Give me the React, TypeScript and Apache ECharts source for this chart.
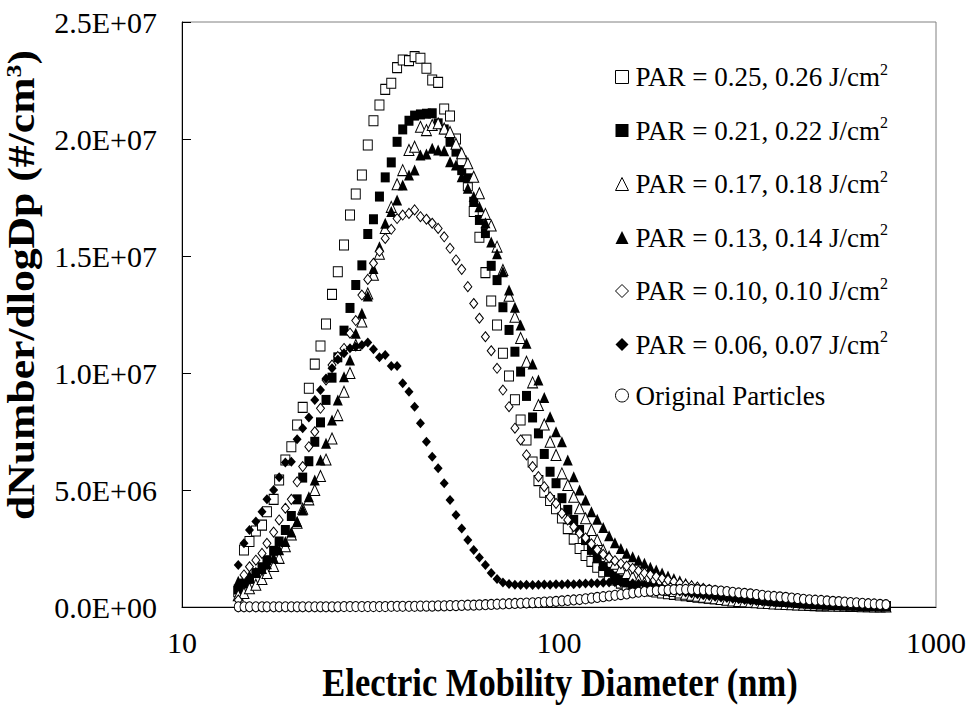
import React, { useEffect, useRef } from 'react';
import * as echarts from 'echarts';

// Electric mobility diameters (nm), SMPS channels
const diameters = [
  14.1, 14.6, 15.1, 15.7, 16.3, 16.8, 17.5, 18.1, 18.8, 19.5,
  20.2, 20.9, 21.7, 22.5, 23.3, 24.1, 25.0, 25.9, 26.9, 27.9,
  28.9, 30.0, 31.1, 32.2, 33.4, 34.6, 35.9, 37.2, 38.5, 40.0,
  41.4, 42.9, 44.5, 46.1, 47.8, 49.6, 51.4, 53.3, 55.2, 57.3,
  59.4, 61.5, 63.8, 66.1, 68.5, 71.0, 73.7, 76.4, 79.1, 82.0,
  85.1, 88.2, 91.4, 94.7, 98.2, 101.8, 105.5, 109.4, 113.4, 117.6,
  121.9, 126.3, 131.0, 135.8, 140.7, 145.9, 151.2, 156.8, 162.5, 168.5,
  174.7, 181.1, 187.7, 194.6, 201.7, 209.1, 216.7, 224.7, 232.9, 241.4,
  250.3, 259.5, 269.0, 278.8, 289.0, 299.6, 310.6, 322.0, 333.8, 346.0,
  358.7, 371.8, 385.4, 399.5, 414.2, 429.4, 445.1, 461.4, 478.3, 495.8,
  514.0, 532.8, 552.3, 572.5, 593.5, 615.3, 637.8, 661.2, 685.4, 710.5,
  736.5,
];

// dN/dlogDp values in millions (#/cm3 x 1e6)
const par025 = [
  0.65, 2.44, 2.8, 3.25, 3.5, 4.07, 4.6, 5.43, 6.28, 6.85,
  7.78, 8.53, 9.35, 10.38, 11.15, 12.09, 13.36, 14.33, 15.47, 16.75,
  17.65, 18.46, 19.74, 20.78, 21.45, 22.12, 22.38, 23.05, 23.38, 23.35,
  23.52, 23.45, 23.02, 22.52, 22.42, 21.28, 20.98, 20.0, 19.06, 18.0,
  16.9, 15.8, 14.29, 13.08, 12.05, 10.84, 9.87, 8.86, 7.99, 7.14,
  6.2, 5.4, 4.9, 4.55, 4.2, 3.8, 3.35, 2.9, 2.5, 2.2,
  1.95, 1.7, 1.5, 1.3, 1.15, 1.02, 0.92, 0.85, 0.78, 0.72,
  0.68, 0.64, 0.6, 0.57, 0.54, 0.51, 0.48, 0.45, 0.42, 0.4,
  0.37, 0.35, 0.33, 0.31, 0.29, 0.27, 0.25, 0.23, 0.21, 0.2,
  0.18, 0.17, 0.16, 0.14, 0.13, 0.12, 0.11, 0.1, 0.09, 0.08,
  0.07, 0.06, 0.06, 0.05, 0.05, 0.04, 0.04, 0.03, 0.03, 0.02,
  0.02,
];

const par021 = [
  0.75, 1.0, 1.2, 1.45, 1.7, 2.0, 2.4, 2.8, 3.29, 3.89,
  4.6, 5.53, 6.23, 7.06, 7.89, 8.85, 9.8, 10.67, 11.81, 12.78,
  13.76, 14.6, 15.94, 16.57, 17.54, 18.36, 19.0, 19.88, 20.41, 20.78,
  21.0, 21.05, 21.08, 21.1, 20.67, 20.41, 19.88, 19.46, 18.67, 18.32,
  17.32, 16.54, 15.98, 14.58, 13.97, 12.81, 11.84, 10.91, 10.06, 9.02,
  8.1, 7.42, 6.54, 5.78, 5.29, 4.65, 4.15, 3.72, 3.29, 2.86,
  2.44, 2.08, 1.75, 1.5, 1.3, 1.15, 1.05, 0.97, 0.9, 0.85,
  0.8, 0.76, 0.72, 0.68, 0.64, 0.6, 0.57, 0.54, 0.51, 0.48,
  0.45, 0.42, 0.4, 0.37, 0.35, 0.33, 0.31, 0.29, 0.27, 0.25,
  0.23, 0.21, 0.2, 0.18, 0.17, 0.15, 0.14, 0.13, 0.12, 0.11,
  0.1, 0.09, 0.08, 0.07, 0.06, 0.05, 0.05, 0.04, 0.03, 0.03,
  0.02,
];

const par017 = [
  0.5, 0.6, 0.8, 0.95, 1.2, 1.45, 1.75, 2.1, 2.6, 3.1,
  3.6, 4.2, 4.6, 5.0, 5.6, 6.3, 7.2, 8.2, 9.2, 10.0,
  11.2, 12.2, 13.4, 14.2, 15.1, 16.2, 17.1, 18.07, 18.67, 19.53,
  19.67, 20.52, 20.38, 20.6, 20.67, 20.45, 20.3, 19.8, 19.39, 18.96,
  18.39, 17.68, 16.8, 16.3, 15.4, 14.4, 13.3, 12.4, 11.5, 10.48,
  9.6, 8.63, 7.8, 7.06, 6.5, 5.71, 5.21, 4.71, 4.22, 3.79,
  3.29, 2.86, 2.44, 2.15, 1.85, 1.65, 1.45, 1.3, 1.15, 1.05,
  0.94, 0.87, 0.8, 0.74, 0.68, 0.62, 0.57, 0.52, 0.48, 0.44,
  0.4, 0.37, 0.34, 0.31, 0.28, 0.26, 0.24, 0.22, 0.2, 0.18,
  0.17, 0.15, 0.14, 0.13, 0.12, 0.11, 0.1, 0.09, 0.08, 0.07,
  0.07, 0.06, 0.05, 0.05, 0.04, 0.04, 0.03, 0.03, 0.02, 0.02,
  0.02,
];

const par013 = [
  1.1, 1.2, 1.35, 1.5, 1.65, 1.85, 2.1, 2.45, 2.8, 3.2,
  3.65, 4.15, 4.71, 5.43, 6.28, 7.0, 7.99, 8.85, 9.84, 10.56,
  11.7, 12.55, 13.29, 14.47, 15.4, 16.4, 16.9, 17.39, 18.03, 18.46,
  18.67, 19.32, 19.36, 19.6, 19.53, 19.5, 19.03, 18.89, 18.39, 17.89,
  17.54, 17.1, 16.42, 15.6, 15.1, 14.33, 13.55, 12.81, 12.05, 11.27,
  10.38, 9.7, 8.95, 8.13, 7.49, 7.06, 6.28, 5.57, 5.0, 4.57,
  4.07, 3.75, 3.4, 3.05, 2.75, 2.5, 2.3, 2.15, 2.0, 1.87,
  1.7, 1.58, 1.45, 1.33, 1.22, 1.12, 1.02, 0.93, 0.85, 0.78,
  0.71, 0.65, 0.6, 0.55, 0.5, 0.46, 0.42, 0.38, 0.35, 0.32,
  0.29, 0.27, 0.25, 0.23, 0.21, 0.19, 0.17, 0.16, 0.14, 0.13,
  0.12, 0.11, 0.1, 0.09, 0.08, 0.07, 0.06, 0.05, 0.05, 0.04,
  0.04,
];

const par010 = [
  0.3, 1.37, 1.72, 2.0, 2.29, 2.72, 3.2, 3.72, 4.22, 4.6,
  5.35, 6.0, 6.85, 7.49, 8.49, 9.7, 10.34, 10.7, 11.05, 11.7,
  12.24, 13.33, 14.0, 14.69, 15.2, 15.75, 16.14, 16.6, 16.75, 16.82,
  16.97, 16.68, 16.57, 16.4, 16.18, 15.82, 15.33, 14.83, 14.43, 13.69,
  12.97, 12.34, 11.55, 10.95, 10.2, 9.27, 8.56, 7.64, 7.14, 6.5,
  6.0, 5.57, 5.14, 4.71, 4.43, 4.0, 3.72, 3.43, 3.15, 2.95,
  2.7, 2.45, 2.25, 2.1, 1.98, 1.85, 1.75, 1.65, 1.55, 1.45,
  1.37, 1.3, 1.22, 1.15, 1.08, 1.01, 0.95, 0.9, 0.85, 0.8,
  0.75, 0.71, 0.67, 0.63, 0.59, 0.55, 0.52, 0.49, 0.46, 0.43,
  0.4, 0.37, 0.35, 0.32, 0.3, 0.28, 0.26, 0.24, 0.22, 0.2,
  0.18, 0.16, 0.15, 0.13, 0.12, 0.1, 0.09, 0.08, 0.07, 0.06,
  0.05,
];

const par006 = [
  1.79, 2.72, 3.29, 3.65, 4.07, 4.6, 5.0, 5.54, 6.17, 6.21,
  7.17, 7.64, 8.1, 8.85, 9.27, 9.77, 10.2, 10.58, 10.84, 11.06,
  11.12, 11.2, 11.3, 11.01, 10.67, 10.77, 10.3, 10.3, 9.56, 9.2,
  8.56, 7.85, 7.06, 6.42, 5.93, 5.29, 4.57, 3.93, 3.36, 2.86,
  2.44, 2.12, 1.8, 1.45, 1.2, 1.05, 0.98, 0.95, 0.94, 0.95,
  0.94, 0.95, 0.96, 0.95, 0.97, 0.96, 0.98, 0.97, 0.99, 1.0,
  1.01, 1.02, 1.04, 1.05, 1.06, 1.05, 1.04, 1.02, 0.99, 0.95,
  0.9, 0.85, 0.8, 0.75, 0.7, 0.66, 0.62, 0.58, 0.54, 0.5,
  0.47, 0.44, 0.41, 0.38, 0.35, 0.33, 0.3, 0.28, 0.26, 0.24,
  0.22, 0.2, 0.19, 0.17, 0.16, 0.15, 0.13, 0.12, 0.11, 0.1,
  0.09, 0.08, 0.08, 0.07, 0.06, 0.05, 0.05, 0.04, 0.04, 0.03,
  0.03,
];

const original = [
  0.01, 0.01, 0.01, 0.01, 0.01, 0.01, 0.01, 0.01, 0.01, 0.01,
  0.01, 0.01, 0.01, 0.01, 0.01, 0.01, 0.01, 0.01, 0.02, 0.02,
  0.02, 0.02, 0.02, 0.02, 0.02, 0.02, 0.03, 0.03, 0.03, 0.03,
  0.03, 0.04, 0.04, 0.04, 0.05, 0.05, 0.06, 0.06, 0.07, 0.08,
  0.08, 0.09, 0.1, 0.11, 0.12, 0.13, 0.14, 0.15, 0.16, 0.17,
  0.18, 0.19, 0.21, 0.22, 0.24, 0.26, 0.28, 0.3, 0.32, 0.35,
  0.38, 0.41, 0.44, 0.47, 0.5, 0.53, 0.56, 0.6, 0.63, 0.66,
  0.68, 0.7, 0.72, 0.73, 0.74, 0.75, 0.75, 0.75, 0.74, 0.73,
  0.72, 0.7, 0.68, 0.66, 0.63, 0.6, 0.58, 0.56, 0.53, 0.5,
  0.47, 0.45, 0.43, 0.41, 0.38, 0.36, 0.33, 0.31, 0.29, 0.28,
  0.26, 0.24, 0.23, 0.21, 0.19, 0.18, 0.16, 0.14, 0.13, 0.11,
  0.1,
];

const seriesNames = [
  'PAR = 0.25, 0.26 J/cm2',
  'PAR = 0.21, 0.22 J/cm2',
  'PAR = 0.17, 0.18 J/cm2',
  'PAR = 0.13, 0.14 J/cm2',
  'PAR = 0.10, 0.10 J/cm2',
  'PAR = 0.06, 0.07 J/cm2',
  'Original Particles',
];

const xTitle = 'Electric Mobility Diameter (nm)';
const yTitleMain = 'dNumber/dlogDp (#/cm';
const yTitleSup = '3';

const FONT = 'Liberation Serif';

type Mk = { symbol: string; size: number[]; fill: string };
const markers: Mk[] = [
  { symbol: 'rect', size: [9, 10], fill: '#ffffff' },
  { symbol: 'rect', size: [9, 10], fill: '#000000' },
  { symbol: 'triangle', size: [10, 11], fill: '#ffffff' },
  { symbol: 'triangle', size: [10, 11], fill: '#000000' },
  { symbol: 'diamond', size: [8, 10], fill: '#ffffff' },
  { symbol: 'diamond', size: [9, 10], fill: '#000000' },
  { symbol: 'circle', size: [8, 10], fill: '#ffffff' },
];

const allValues = [par025, par021, par017, par013, par010, par006, original];

function sci(v: number): string {
  const n = v * 1e6;
  if (n === 0) return '0.0E+00';
  const e = Math.floor(Math.log10(n) + 1e-9);
  const m = n / Math.pow(10, e);
  return m.toFixed(1) + 'E+' + String(e).padStart(2, '0');
}

export default function App() {
  const ref = useRef<HTMLDivElement>(null);
  useEffect(() => {
    document.body.style.margin = '0';
    const chart = echarts.init(ref.current!, null, { renderer: 'svg' });
    const series = allValues.map((vals, si) => ({
      name: seriesNames[si],
      type: 'scatter',
      symbol: markers[si].symbol,
      symbolSize: markers[si].size,
      data: diameters.map((d, i) => [d, vals[i]]),
      itemStyle: {
        color: markers[si].fill,
        borderColor: '#000000',
        borderWidth: markers[si].fill === '#ffffff' ? 1 : 0,
        opacity: 1,
      },
      emphasis: { disabled: true },
      z: 2 + si,
    }));

    chart.setOption({
      animation: false,
      backgroundColor: '#ffffff',
      grid: {
        left: 182,
        right: 32,
        top: 22,
        bottom: 110,
        show: true,
        borderColor: '#808080',
        borderWidth: 1,
        backgroundColor: 'transparent',
      },
      xAxis: {
        type: 'log',
        logBase: 10,
        min: 10,
        max: 1000,
        axisLine: { show: true, lineStyle: { color: '#000', width: 1 } },
        axisTick: { show: false },
        splitLine: { show: false },
        minorTick: { show: false },
        axisLabel: {
          fontFamily: FONT,
          fontSize: 30,
          color: '#000',
          margin: 20,
          formatter: (v: number) => String(Math.round(v)),
        },
      },
      yAxis: {
        type: 'value',
        min: 0,
        max: 25,
        interval: 5,
        axisLine: { show: true, lineStyle: { color: '#000', width: 1 } },
        axisTick: { show: true, inside: true, length: 9, lineStyle: { color: '#000' } },
        splitLine: { show: false },
        axisLabel: {
          fontFamily: FONT,
          fontSize: 30,
          color: '#000',
          margin: 25,
          formatter: (v: number) => sci(v),
        },
      },
      legend: {
        orient: 'vertical',
        left: 610,
        top: 56,
        itemWidth: 13,
        itemHeight: 13,
        itemGap: 24,
        selectedMode: false,
        data: seriesNames.map((n, si) => ({
          name: n,
          icon: markers[si].symbol,
          itemStyle: {
            color: markers[si].fill,
            borderColor: '#000',
            borderWidth: markers[si].fill === '#ffffff' ? 1 : 0,
          },
        })),
        formatter: (name: string) =>
          name.endsWith('cm2') ? `{b|${name.slice(0, -1)}}{s|2}` : `{b|${name}}`,
        textStyle: {
          fontFamily: FONT,
          fontSize: 27,
          color: '#000',
          rich: {
            b: { fontFamily: FONT, fontSize: 27, color: '#000', lineHeight: 32, padding: [0, 0, 0, 2] },
            s: { fontFamily: FONT, fontSize: 16, color: '#000', lineHeight: 18, verticalAlign: 'top' },
          },
        },
      },
      graphic: [
        {
          type: 'text',
          x: 560,
          y: 683,
          scaleY: 1.15,
          scaleX: 1.015,
          style: {
            text: xTitle,
            fontFamily: FONT,
            fontSize: 34,
            fontWeight: 'bold',
            fill: '#000',
            textAlign: 'center',
            textVerticalAlign: 'middle',
          },
        },
        {
          type: 'text',
          x: 22,
          y: 285,
          rotation: Math.PI / 2,
          scaleX: 1.18,
          style: {
            text: `{t|${yTitleMain}}{s|${yTitleSup}}{t|)}`,
            textAlign: 'center',
            textVerticalAlign: 'middle',
            rich: {
              t: { fontFamily: FONT, fontSize: 37, fontWeight: 'bold', fill: '#000', lineHeight: 38 },
              s: { fontFamily: FONT, fontSize: 22, fontWeight: 'bold', fill: '#000', lineHeight: 22, verticalAlign: 'top' },
            },
          },
        },
      ],
      series,
    });
    return () => chart.dispose();
  }, []);
  return <div ref={ref} style={{ width: 969, height: 717 }} />;
}
